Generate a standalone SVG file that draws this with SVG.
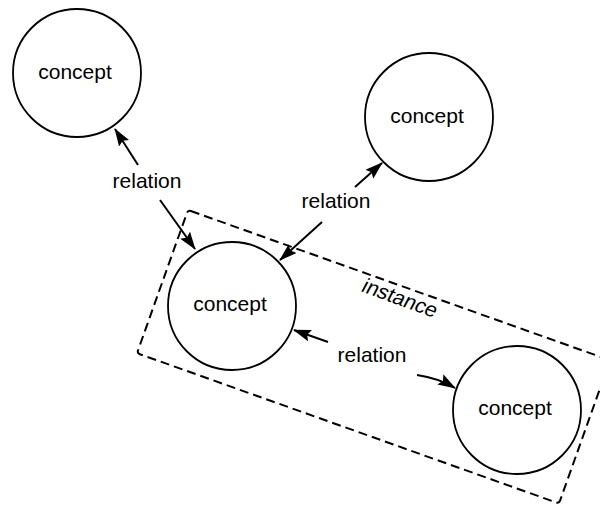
<svg xmlns="http://www.w3.org/2000/svg" width="600" height="507" viewBox="0 0 600 507">
<style>
.node circle{fill:none;stroke:#000;stroke-width:1.8}
text{font-family:"Liberation Sans",Arial,sans-serif;font-size:21px;fill:#000;text-anchor:middle}
.conn line,.conn path{stroke:#000;stroke-width:2;fill:none;marker-end:url(#ah)}
.box{fill:none;stroke:#000;stroke-width:2;stroke-dasharray:9 5}
</style>
<defs>
<marker id="ah" viewBox="0 0 18 12" refX="17" refY="6" markerWidth="18" markerHeight="12" markerUnits="userSpaceOnUse" orient="auto">
<path d="M0,0 L18,6 L0,12 L3,6 Z" fill="#000"/>
</marker>
</defs>
<rect fill="#fff" width="600" height="507"/>
<g id="instance-box">
<rect class="box" x="0" y="0" width="448" height="152" rx="3" transform="translate(188,210) rotate(19.6)"/>
<text x="0" y="0" style="text-anchor:start" transform="translate(360,291) rotate(20) skewX(-8)">instance</text>
</g>
<g id="concept1" class="node"><circle cx="77" cy="73" r="64"/><text x="75" y="79">concept</text></g>
<g id="concept2" class="node"><circle cx="429" cy="117" r="64"/><text x="427" y="123">concept</text></g>
<g id="concept3" class="node"><circle cx="232" cy="306" r="64"/><text x="230" y="311">concept</text></g>
<g id="concept4" class="node"><circle cx="517" cy="410" r="64"/><text x="515" y="415">concept</text></g>
<g id="labels">
<text x="147" y="188">relation</text>
<text x="336" y="208">relation</text>
<text x="372" y="362">relation</text>
</g>
<g id="connectors" class="conn">
<line x1="138" y1="165" x2="115" y2="129"/>
<line x1="160" y1="200" x2="195" y2="249"/>
<line x1="355" y1="187" x2="382" y2="163"/>
<line x1="322" y1="222" x2="280" y2="260"/>
<line x1="328" y1="342" x2="294" y2="330"/>
<path d="M417,375 Q438,378 455,388"/>
</g>
</svg>
